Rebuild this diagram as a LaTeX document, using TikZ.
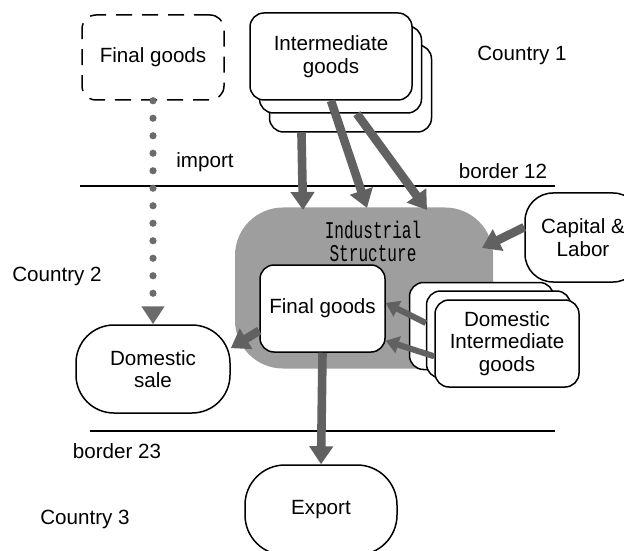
\documentclass[tikz,border=0pt]{standalone}
\usepackage{fontspec}
\setmainfont{Liberation Sans}
\newfontfamily\structfont{Liberation Mono}[FakeStretch=0.67]
\usetikzlibrary{arrows.meta,calc}
\tikzset{
    every node/.style={
        font=\fontsize{10.3pt}{11.3pt}\selectfont,
        align=center,
    },
    goods/.style={
        draw=black,
        line width=0.75pt,
        fill=white,
        rounded corners=7pt,
        inner sep=0pt,
        minimum width=81pt,
        minimum height=43.5pt,
    },
    domgoods/.style={
        goods,
        minimum width=72pt,
    },
    market/.style={
        draw=black,
        line width=0.75pt,
        fill=white,
        inner sep=0pt,
        minimum width=77pt,
        minimum height=44pt,
        rounded corners=19pt,
    },
    industry/.style={
        fill=black!38,
        rounded corners=24pt,
        minimum width=129pt,
        minimum height=80.5pt,
    },
    flow/.style={
        line width=4.3pt,
        draw=black!62,
        -{Triangle[width=11.5pt,length=9pt]},
    },
    smallflow/.style={
        line width=3pt,
        draw=black!62,
        -{Triangle[width=8.5pt,length=6.5pt]},
    },
    importflow/.style={
        line width=3.6pt,
        draw=black!58,
        line cap=round,
        dash pattern=on 0pt off 8.75pt,
        -{Triangle[width=11pt,length=9pt]},
    },
    border/.style={
        draw=black,
        line width=0.75pt,
    },
}

\begin{document}
\begin{tikzpicture}[x=0.5pt,y=-0.5pt]
    \useasboundingbox (0,0) rectangle (624,550);

    % borders between the countries
    \draw[border] (80,186) -- (555,186);
    \draw[border] (90,431) -- (555,431);

    \node (country1) at (522,55) {Country 1};
    \node (country2) at (57,276) {Country 2};
    \node (country3) at (85,519) {Country 3};
    \node (border12) at (503,171) {border 12};
    \node (border23) at (117,451) {border 23};
    \node (import) at (205,162) {import};

    % country 1
    \node[goods, dashed, dash pattern=on 8pt off 5pt, minimum width=71pt, minimum height=42.5pt] (fgood) at (153,57.5) {Final goods};
    \node[goods] (inter3) at (350.5,88.5) {};
    \node[goods] (inter2) at (340.5,69.5) {};
    \node[goods] (inter1) at (331,56.5) {Intermediate\\goods};

    % country 2
    \node[industry] (struct) at (364,288) {};
    \node[font=\structfont\fontsize{12pt}{11.5pt}\selectfont] (structlabel) at (373,241) {Industrial\\Structure};
    \node[goods, minimum width=62.5pt] (final) at (322.5,308.5) {Final goods};
    \node[domgoods] (dint3) at (481.5,326) {};
    \node[domgoods] (dint2) at (498.5,334.5) {};
    \node[domgoods] (dint1) at (507,343.5) {Domestic\\Intermediate\\goods};
    \node[market, minimum width=58pt, minimum height=44.5pt, rounded corners=14pt] (cap) at (583,237.5) {Capital \&\\Labor};
    \node[market] (dsale) at (153,369) {Domestic\\sale};

    % country 3
    \node[market, minimum width=76pt, minimum height=45pt, rounded corners=20pt] (export) at (321,510) {Export};

    \coordinate (in1) at (303,210);
    \coordinate (in2) at (367,208);
    \coordinate (in3) at (427,210);
    \coordinate (capin) at (482,248);

    \draw[importflow] (fgood.south) -- (dsale.north);
    \draw[flow] ($(inter3.south west)!0.2!(inter3.south east)$) -- (in1);
    \draw[flow] (inter1.south) -- (in2);
    \draw[flow] ($(inter2.south west)!0.6!(inter2.south east)$) -- (in3);
    \draw[flow] (cap.170) -- (capin);
    \draw[smallflow] (dint2.171) -- (final.5);
    \draw[smallflow] (dint1.190) -- (final.-27);
    \draw[flow] ($(final.west)!0.5!(final.south west)$) -- (dsale.15);
    \draw[flow] (final.south) -- (export.north);
\end{tikzpicture}
\end{document}
